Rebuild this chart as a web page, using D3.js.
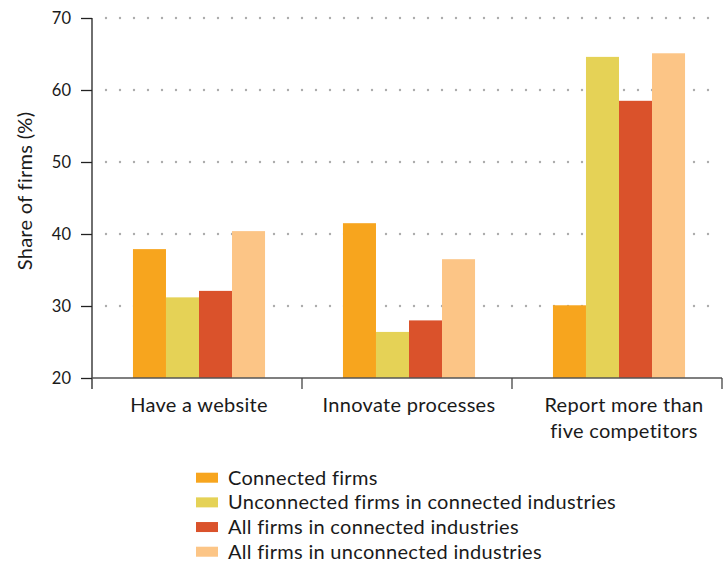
<!DOCTYPE html>
<html>
<head>
<meta charset="utf-8">
<script src="https://cdn.jsdelivr.net/npm/d3@7"></script>
<style>
  body { margin: 0; background: #fff; }
  svg text { font-family: "Lato", "Open Sans", sans-serif; fill: #1a1a1a; }
</style>
</head>
<body>
<svg id="chart" width="726" height="562"></svg>
<script>
const categories = [["Have a website"], ["Innovate processes"], ["Report more than", "five competitors"]];
const seriesNames = [
  "Connected firms",
  "Unconnected firms in connected industries",
  "All firms in connected industries",
  "All firms in unconnected industries"
];
const seriesColors = ["#F7A51E", "#E5D256", "#DA522B", "#FCC586"];
const connectedFirms = [37.9, 41.5, 30.1];
const unconnectedInConnected = [31.2, 26.4, 64.6];
const allInConnected = [32.1, 28.0, 58.5];
const allInUnconnected = [40.4, 36.5, 65.1];
const yTicks = [20, 30, 40, 50, 60, 70];

const series = [connectedFirms, unconnectedInConnected, allInConnected, allInUnconnected];

(function () {
const svg = d3.select("#chart");
const mLeft = 92, mRight = 722, mTop = 18, mBottom = 378;

const x0 = d3.scaleBand().domain(d3.range(categories.length)).range([mLeft, mRight]).paddingInner(0).paddingOuter(0);
const x1 = d3.scaleBand().domain(d3.range(series.length)).range([2, x0.bandwidth() + 2]).paddingOuter(1.18);
const y = d3.scaleLinear().domain([20, 70]).range([mBottom, mTop]);

// grid lines (dotted)
svg.append("g").selectAll("line").data(yTicks.filter(t => t > 20)).join("line")
  .attr("x1", mLeft + 14).attr("x2", mRight)
  .attr("y1", d => y(d)).attr("y2", d => y(d))
  .attr("stroke", "#adadad").attr("stroke-width", 2.4)
  .attr("stroke-linecap", "round").attr("stroke-dasharray", "0,14");

// bars
const groups = svg.append("g").selectAll("g").data(categories).join("g")
  .attr("transform", (d, i) => `translate(${x0(i)},0)`);
groups.selectAll("rect").data((d, i) => series.map((s, j) => ({ j, v: s[i] }))).join("rect")
  .attr("x", d => x1(d.j)).attr("width", x1.bandwidth())
  .attr("y", d => y(d.v)).attr("height", d => y(20) - y(d.v))
  .attr("fill", d => seriesColors[d.j]);

// y axis
const yAxis = d3.axisLeft(y).tickValues(yTicks).tickSize(11).tickPadding(10).tickFormat(d3.format("d"));
const gy = svg.append("g").attr("transform", `translate(${mLeft},0)`).call(yAxis);
gy.select(".domain").attr("d", `M0,${mTop}V${mBottom + 11}`).attr("stroke", "#222").attr("stroke-width", 1.3);
gy.selectAll(".tick line").attr("stroke", "#222").attr("stroke-width", 1.3);
gy.selectAll(".tick text").style("font-size", "16.5px").style("font-family", "Lato, sans-serif").attr("fill", "#1a1a1a");

// x axis line
svg.append("line").attr("x1", mLeft).attr("x2", mRight).attr("y1", mBottom).attr("y2", mBottom)
  .attr("stroke", "#555").attr("stroke-width", 1.5);
// group boundary ticks
svg.append("g").selectAll("line").data(d3.range(1, categories.length + 1)).join("line")
  .attr("x1", i => x0(i - 1) + x0.bandwidth()).attr("x2", i => x0(i - 1) + x0.bandwidth())
  .attr("y1", mBottom).attr("y2", mBottom + 11)
  .attr("stroke", "#444").attr("stroke-width", 1.3);

// category labels
const labelShift = [2, 2, 7];
const lbl = svg.append("g").selectAll("text").data(categories).join("text")
  .attr("text-anchor", "middle")
  .attr("x", (d, i) => x0(i) + x0.bandwidth() / 2 + labelShift[i])
  .attr("y", 411.5)
  .style("font-size", "20px").style("letter-spacing", "0.3px");
lbl.selectAll("tspan").data(d => d).join("tspan")
  .attr("x", function() { return d3.select(this.parentNode).attr("x"); })
  .attr("dy", (d, k) => k === 0 ? 0 : 26.5)
  .text(d => d);

// y axis title
svg.append("text").attr("transform", "translate(32,191) rotate(-90)")
  .attr("text-anchor", "middle").style("font-size", "20px").style("letter-spacing", "0.3px")
  .text("Share of firms (%)");

// legend
const leg = svg.append("g").selectAll("g").data(seriesNames).join("g")
  .attr("transform", (d, i) => `translate(196,${477.7 + i * 24.67})`);
leg.append("rect").attr("x", 0).attr("y", -5).attr("width", 22).attr("height", 10)
  .attr("fill", (d, i) => seriesColors[i]);
leg.append("text").attr("x", 32).attr("y", 6.8).style("font-size", "20px").style("letter-spacing", "0.3px").text(d => d);
})();
</script>
</body>
</html>
